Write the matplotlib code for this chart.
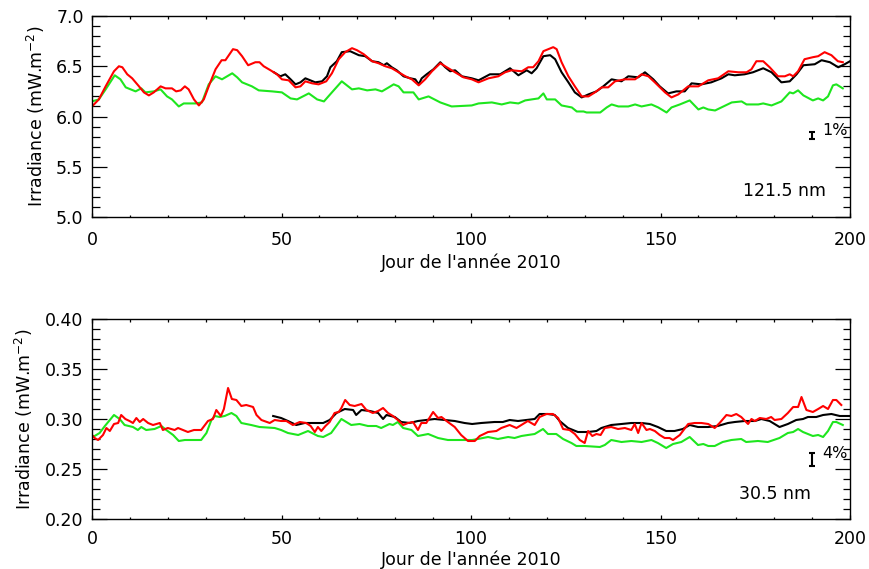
import numpy as np
import matplotlib
matplotlib.use("Agg")
import matplotlib.pyplot as plt
from matplotlib.ticker import MultipleLocator, FormatStrFormatter

# ---------------- data (day of year, irradiance) ----------------
top_red = np.array([
    (0, 6.10), (1.8, 6.17), (3.6, 6.30), (5.8, 6.45), (7.1, 6.50), (8, 6.49), (9.3, 6.42), (10.6, 6.38),
    (12.4, 6.30), (13.7, 6.24), (15, 6.21), (16.3, 6.24), (18.1, 6.30), (19.4, 6.28), (21.1, 6.28),
    (22.2, 6.25), (23.4, 6.26), (24.5, 6.30), (25.5, 6.27), (26.9, 6.17), (28.2, 6.11), (29.5, 6.17),
    (30.8, 6.30), (32.6, 6.47), (34.2, 6.56), (35.2, 6.56), (37.2, 6.67), (38.3, 6.66), (39.6, 6.60),
    (41.2, 6.51), (43.1, 6.54), (44.2, 6.54), (45.3, 6.50), (47.1, 6.46), (48.8, 6.42), (50.1, 6.37),
    (51.9, 6.36), (53.7, 6.29), (55, 6.30), (56.3, 6.35), (58.1, 6.33), (59.8, 6.32), (61.8, 6.35),
    (63.3, 6.43), (65.1, 6.57), (66.8, 6.64), (68.6, 6.68), (69.9, 6.66), (71.7, 6.62), (73.9, 6.55),
    (75.6, 6.53), (77.4, 6.50), (79.1, 6.48), (80.9, 6.44), (82.7, 6.40), (84.4, 6.37), (86.2, 6.31),
    (87.9, 6.37), (89.7, 6.45), (91.9, 6.53), (93.6, 6.49), (95.8, 6.44), (98, 6.39), (100.2, 6.37),
    (102, 6.34), (104.6, 6.38), (107.2, 6.40), (109, 6.44), (110.7, 6.46), (113.4, 6.45), (115.1, 6.49),
    (116.4, 6.49), (117.8, 6.55), (119.1, 6.65), (121.7, 6.69), (122.6, 6.67), (123.9, 6.54),
    (125.7, 6.40), (127.4, 6.30), (129.2, 6.20), (131, 6.20), (132.7, 6.24), (134.5, 6.29),
    (136.2, 6.29), (138, 6.35), (140.6, 6.37), (143.3, 6.37), (145, 6.42), (146.8, 6.40), (148.5, 6.34),
    (151.2, 6.24), (152.9, 6.19), (154.7, 6.22), (157.3, 6.30), (160, 6.30), (162.6, 6.36), (165.2, 6.38),
    (167.9, 6.45), (170.5, 6.44), (172.7, 6.44), (174, 6.47), (175.3, 6.55), (177.1, 6.55), (178.8, 6.49),
    (181, 6.40), (182.8, 6.40), (184.1, 6.42), (185, 6.40), (186.3, 6.45), (188, 6.57), (190.2, 6.59),
    (191.6, 6.60), (193.3, 6.64), (195.1, 6.61), (196.8, 6.55), (198.1, 6.54)])

top_black = np.array([
    (48, 6.44), (49.7, 6.40), (51, 6.42), (52.4, 6.37), (53.7, 6.32), (55, 6.34), (56.3, 6.38),
    (57.6, 6.36), (58.9, 6.34), (60.7, 6.35), (62, 6.40), (62.9, 6.49), (64.6, 6.55), (65.9, 6.64),
    (68.1, 6.65), (70.4, 6.61), (72.1, 6.60), (73.9, 6.55), (75.6, 6.54), (77, 6.51), (77.8, 6.53),
    (79.1, 6.49), (80.4, 6.46), (82.2, 6.40), (84, 6.38), (85.3, 6.37), (86.2, 6.32), (87, 6.38),
    (88.3, 6.42), (90.1, 6.47), (91.9, 6.54), (93.2, 6.49), (94.5, 6.45), (95.8, 6.46), (97.6, 6.40),
    (100.2, 6.38), (102, 6.36), (105, 6.42), (107.7, 6.42), (110.3, 6.48), (112.5, 6.41), (114.7, 6.46),
    (116, 6.43), (117.3, 6.48), (119.1, 6.60), (120.9, 6.61), (122.2, 6.57), (123.9, 6.44), (125.7, 6.34),
    (127.4, 6.24), (129.2, 6.19), (131, 6.22), (133.1, 6.25), (134.9, 6.30), (137.1, 6.37), (139.7, 6.35),
    (141.5, 6.40), (144.1, 6.39), (145.9, 6.44), (148.1, 6.37), (149.8, 6.30), (152, 6.23), (154.2, 6.25),
    (156.4, 6.25), (158.2, 6.33), (160.8, 6.32), (163.4, 6.34), (166.1, 6.38), (167.9, 6.42), (169.6, 6.41),
    (172.2, 6.42), (174.4, 6.44), (177.1, 6.48), (179.3, 6.44), (181.9, 6.34), (184.1, 6.35), (185.9, 6.42),
    (187.7, 6.51), (190.7, 6.52), (192.5, 6.56), (194.7, 6.54), (196.9, 6.49), (198.6, 6.52), (200, 6.55)])

top_green = np.array([
    (0, 6.15), (1.8, 6.17), (3.6, 6.27), (6, 6.41), (7.5, 6.37), (8.9, 6.29), (11.5, 6.25), (13, 6.28),
    (14.1, 6.24), (16.3, 6.25), (18.1, 6.27), (19.8, 6.20), (21.1, 6.17), (22.9, 6.10), (24.2, 6.13),
    (27.3, 6.13), (29, 6.14), (30.8, 6.32), (32.6, 6.40), (34.3, 6.37), (37, 6.43), (38.3, 6.39),
    (39.6, 6.34), (42.2, 6.30), (44, 6.26), (47.5, 6.25), (50.1, 6.24), (52.4, 6.18), (54.1, 6.17),
    (57.2, 6.23), (59.4, 6.17), (61.2, 6.15), (63.3, 6.24), (65.9, 6.35), (68.6, 6.27), (70.4, 6.28),
    (72.6, 6.26), (74.8, 6.27), (76.5, 6.25), (78.3, 6.29), (79.6, 6.32), (80.9, 6.30), (82.2, 6.24),
    (84.8, 6.24), (86.2, 6.17), (88.8, 6.20), (91.9, 6.14), (94.9, 6.10), (100.2, 6.11), (102, 6.13),
    (105.5, 6.14), (108.1, 6.12), (110.3, 6.14), (112.5, 6.13), (114.3, 6.16), (116, 6.17), (117.8, 6.18),
    (119.1, 6.23), (120, 6.17), (122.2, 6.17), (123.9, 6.11), (126.6, 6.09), (127.9, 6.05), (129.7, 6.05),
    (130.5, 6.04), (134.1, 6.04), (135.8, 6.09), (137.1, 6.12), (138.9, 6.10), (141.5, 6.10), (143.3, 6.12),
    (145, 6.10), (147.6, 6.12), (149.4, 6.09), (151.6, 6.04), (152.9, 6.09), (155.1, 6.12), (157.7, 6.16),
    (160, 6.07), (161.3, 6.09), (162.6, 6.07), (164.4, 6.06), (166.6, 6.10), (168.8, 6.14), (171.4, 6.15),
    (172.7, 6.12), (175.8, 6.12), (177.1, 6.13), (179.3, 6.11), (181.9, 6.15), (184.1, 6.24), (185, 6.23),
    (186.3, 6.26), (187.7, 6.21), (190.2, 6.16), (191.6, 6.18), (192.9, 6.16), (194.2, 6.20), (195.5, 6.31),
    (196.4, 6.32), (198.1, 6.28)])

bot_red = np.array([
    (0, 0.284), (0.7, 0.281), (1.6, 0.279), (2.9, 0.284), (3.8, 0.291), (4.7, 0.288), (5.8, 0.295),
    (6.9, 0.296), (7.7, 0.304), (8.8, 0.300), (9.9, 0.298), (10.8, 0.296), (11.7, 0.301), (12.6, 0.297),
    (13.5, 0.300), (14.8, 0.296), (16.1, 0.294), (17.9, 0.296), (18.7, 0.289), (20, 0.291), (21.8, 0.289),
    (22.7, 0.291), (24, 0.289), (25.3, 0.287), (26.9, 0.289), (28.8, 0.289), (30.6, 0.298), (31.9, 0.300),
    (32.8, 0.309), (34, 0.303), (34.8, 0.310), (35.9, 0.331), (36.9, 0.320), (38.1, 0.319), (39.4, 0.313),
    (40.7, 0.314), (42.5, 0.312), (43.4, 0.304), (44.7, 0.299), (46.9, 0.296), (48.2, 0.299), (49.9, 0.298),
    (51.3, 0.298), (53, 0.294), (54.8, 0.297), (56.5, 0.296), (57.7, 0.293), (58.8, 0.287), (59.6, 0.292),
    (60.5, 0.288), (61.6, 0.293), (62.7, 0.297), (64, 0.306), (65.1, 0.307), (65.8, 0.311), (66.8, 0.319),
    (68, 0.314), (69.3, 0.313), (71.1, 0.315), (72.4, 0.309), (74.1, 0.306), (75.5, 0.308), (76.8, 0.311),
    (78.1, 0.306), (79.4, 0.303), (80.7, 0.299), (82.1, 0.294), (83.4, 0.296), (84.7, 0.297), (86, 0.289),
    (86.9, 0.296), (88.2, 0.296), (90, 0.307), (91.3, 0.301), (92.2, 0.302), (93.9, 0.297), (95.7, 0.292),
    (97.4, 0.284), (99.2, 0.278), (101, 0.278), (102.3, 0.283), (104.5, 0.287), (106.7, 0.288), (108, 0.291),
    (110.2, 0.294), (112, 0.291), (113.3, 0.294), (115, 0.298), (116.8, 0.294), (118.1, 0.302),
    (119.9, 0.305), (121.6, 0.305), (123, 0.301), (124.3, 0.290), (126, 0.289), (127.4, 0.285),
    (128.7, 0.279), (130, 0.276), (130.9, 0.288), (132, 0.283), (133.1, 0.285), (134.2, 0.284),
    (135.3, 0.291), (137, 0.292), (138.8, 0.290), (140.6, 0.291), (142.3, 0.289), (143.2, 0.295),
    (144.1, 0.286), (145, 0.296), (146.3, 0.289), (147.2, 0.290), (148.5, 0.288), (149.8, 0.284),
    (151.1, 0.281), (152.4, 0.281), (153.3, 0.279), (155.1, 0.284), (157.3, 0.295), (159, 0.296),
    (160.8, 0.296), (162.6, 0.295), (164.3, 0.291), (165.6, 0.296), (167.4, 0.304), (168.7, 0.303),
    (170, 0.305), (171.3, 0.302), (173.1, 0.295), (174, 0.300), (174.9, 0.298), (176.2, 0.301),
    (177.9, 0.300), (179.2, 0.302), (180.1, 0.299), (181.9, 0.300), (183.6, 0.306), (185, 0.312),
    (186.3, 0.312), (187.2, 0.322), (188.5, 0.309), (190.2, 0.307), (191.6, 0.310), (192.9, 0.313),
    (194.2, 0.310), (195.5, 0.319), (196.4, 0.319), (197.7, 0.314)])

bot_black = np.array([
    (47.8, 0.303), (49.9, 0.301), (51.7, 0.298), (53.9, 0.294), (56.1, 0.296), (58.8, 0.296), (61, 0.296),
    (62.7, 0.299), (64.5, 0.306), (66.7, 0.310), (68.9, 0.309), (69.7, 0.304), (71.1, 0.309), (73.3, 0.308),
    (75.5, 0.306), (76.8, 0.300), (77.7, 0.304), (79.9, 0.302), (81.6, 0.297), (83.8, 0.296), (86, 0.298),
    (88.2, 0.299), (90.4, 0.300), (93.1, 0.299), (95.7, 0.298), (98.3, 0.296), (100.3, 0.295),
    (102.7, 0.296), (106.2, 0.297), (108.4, 0.297), (110.2, 0.299), (112.4, 0.298), (114.6, 0.299),
    (116.8, 0.300), (118.1, 0.305), (120.3, 0.305), (122.1, 0.304), (123.4, 0.298), (125.6, 0.291),
    (128.2, 0.287), (130.9, 0.287), (133.1, 0.288), (134.4, 0.291), (137, 0.294), (139.7, 0.295),
    (142.3, 0.296), (145, 0.296), (147.2, 0.295), (149.3, 0.292), (151.5, 0.288), (153.7, 0.288),
    (155.9, 0.290), (157.7, 0.294), (159.9, 0.292), (162.6, 0.292), (165.1, 0.293), (167.8, 0.296),
    (169.6, 0.297), (172.2, 0.298), (174.9, 0.298), (176.6, 0.300), (178.8, 0.298), (181.4, 0.292),
    (183.6, 0.295), (185.8, 0.299), (187.6, 0.300), (188.9, 0.302), (191.1, 0.302), (192.9, 0.304),
    (195.1, 0.305), (197.3, 0.303), (200, 0.303)])

bot_green = np.array([
    (0, 0.283), (0.7, 0.283), (2, 0.286), (3.4, 0.293), (5.8, 0.304), (7.3, 0.300), (8.6, 0.294),
    (10.8, 0.292), (12.1, 0.289), (13, 0.292), (14.3, 0.289), (16.5, 0.290), (18.3, 0.293), (19.6, 0.289),
    (21.4, 0.284), (22.9, 0.278), (24.5, 0.279), (27.1, 0.279), (28.8, 0.279), (30.2, 0.286), (31.5, 0.299),
    (32.4, 0.303), (33.7, 0.302), (35, 0.303), (36.8, 0.306), (38.1, 0.303), (39.4, 0.296), (42, 0.294),
    (44.2, 0.292), (48.2, 0.291), (49.9, 0.289), (51.7, 0.286), (54.4, 0.284), (57, 0.288), (59.6, 0.283),
    (61, 0.282), (63.1, 0.286), (65.8, 0.300), (68.4, 0.294), (70.6, 0.295), (72.8, 0.293), (75, 0.293),
    (76.3, 0.291), (78.5, 0.295), (79.4, 0.294), (80.7, 0.297), (82.1, 0.291), (84.3, 0.289), (86, 0.283),
    (88.7, 0.285), (91.3, 0.281), (93.9, 0.279), (97.4, 0.279), (100.3, 0.279), (101.8, 0.280),
    (104.5, 0.282), (107.1, 0.280), (109.8, 0.282), (111.5, 0.281), (113.3, 0.283), (115, 0.284),
    (116.8, 0.285), (119, 0.290), (120.3, 0.285), (122.5, 0.285), (124.3, 0.280), (126.5, 0.276),
    (127.8, 0.273), (130, 0.273), (134, 0.272), (135.3, 0.274), (137, 0.279), (139.7, 0.277),
    (142.3, 0.278), (145, 0.277), (147.6, 0.279), (149.3, 0.276), (151.5, 0.271), (153.3, 0.275),
    (155.5, 0.277), (157.7, 0.282), (159.9, 0.274), (161.3, 0.275), (162.6, 0.273), (164.3, 0.273),
    (166.4, 0.277), (168.7, 0.279), (171.3, 0.280), (172.6, 0.277), (175.7, 0.278), (178.3, 0.277),
    (181.4, 0.281), (183.6, 0.286), (185, 0.287), (186.3, 0.290), (187.6, 0.287), (190.2, 0.283),
    (191.6, 0.284), (192.9, 0.282), (194.2, 0.288), (195.5, 0.297), (196.4, 0.297), (198.1, 0.294)])

x_ticks = [0, 50, 100, 150, 200]
top_yticks = [5.0, 5.5, 6.0, 6.5, 7.0]
bot_yticks = [0.20, 0.25, 0.30, 0.35, 0.40]
top_label = "121.5 nm"
bot_label = "30.5 nm"
top_err = (190, 5.81, 0.031, "1%")
bot_err = (190, 0.260, 0.0065, "4%")
xlabel = "Jour de l'ann\u00e9e 2010"
ylabel = "Irradiance (mW.m$^{-2}$)"

# ---------------- figure ----------------
plt.rcParams['font.family'] = ['DejaVu Sans']
plt.rcParams['mathtext.fontset'] = 'dejavusans'
FS = 12.5
fig = plt.figure(figsize=(8.69, 5.69), dpi=100)
W, H = 869, 569
ax1 = fig.add_axes([92 / W, 1 - 217 / H, 758 / W, 201 / H])
ax2 = fig.add_axes([92 / W, 1 - 519 / H, 758 / W, 200 / H])

GREEN = '#1ee61e'
LW = 1.5


def style(ax, yticks, fmt, yminor, ylabx, xlaby, xpad):
    ax.set_xlim(0, 200)
    ax.set_ylim(yticks[0], yticks[-1])
    ax.set_xticks(x_ticks)
    ax.set_yticks(yticks)
    ax.xaxis.set_minor_locator(MultipleLocator(10))
    ax.yaxis.set_minor_locator(MultipleLocator(yminor))
    ax.yaxis.set_major_formatter(FormatStrFormatter(fmt))
    ax.tick_params(which='both', direction='in', top=True, right=True, labelsize=FS, width=0.9)
    ax.tick_params(axis='y', which='major', length=10.8, pad=6)
    ax.tick_params(axis='y', which='minor', length=5.4)
    ax.tick_params(axis='x', which='major', length=3.2, pad=xpad)
    ax.tick_params(axis='x', which='minor', length=1.8)
    for s in ax.spines.values():
        s.set_linewidth(1.0)
    ax.set_xlabel(xlabel, fontsize=FS)
    ax.xaxis.set_label_coords(0.5, xlaby)
    ax.set_ylabel(ylabel, fontsize=FS)
    ax.yaxis.set_label_coords(ylabx, 0.5)


for ax, red, blk, grn in [(ax1, top_red, top_black, top_green), (ax2, bot_red, bot_black, bot_green)]:
    ax.plot(grn[:, 0], grn[:, 1], color=GREEN, lw=LW)
    ax.plot(blk[:, 0], blk[:, 1], color='black', lw=LW)
    ax.plot(red[:, 0], red[:, 1], color='red', lw=LW)

style(ax1, top_yticks, '%.1f', 0.1, -0.06, -0.18, 10)
style(ax2, bot_yticks, '%.2f', 0.01, -0.075, -0.158, 8)

ax1.text(0.913, 0.129, top_label, transform=ax1.transAxes, ha='center', va='center', fontsize=FS)
ax2.text(0.901, 0.125, bot_label, transform=ax2.transAxes, ha='center', va='center', fontsize=FS)

for ax, (d, v, e, lab), ty in [(ax1, top_err, 0.43), (ax2, bot_err, 0.33)]:
    ax.errorbar([d], [v], yerr=[e], fmt='none', ecolor='black', elinewidth=1.5, capsize=2.5, capthick=1.5)
    ax.text(0.963, ty, lab, transform=ax.transAxes, ha='left', va='center', fontsize=11.5)

fig.savefig('out.png', dpi=100)
